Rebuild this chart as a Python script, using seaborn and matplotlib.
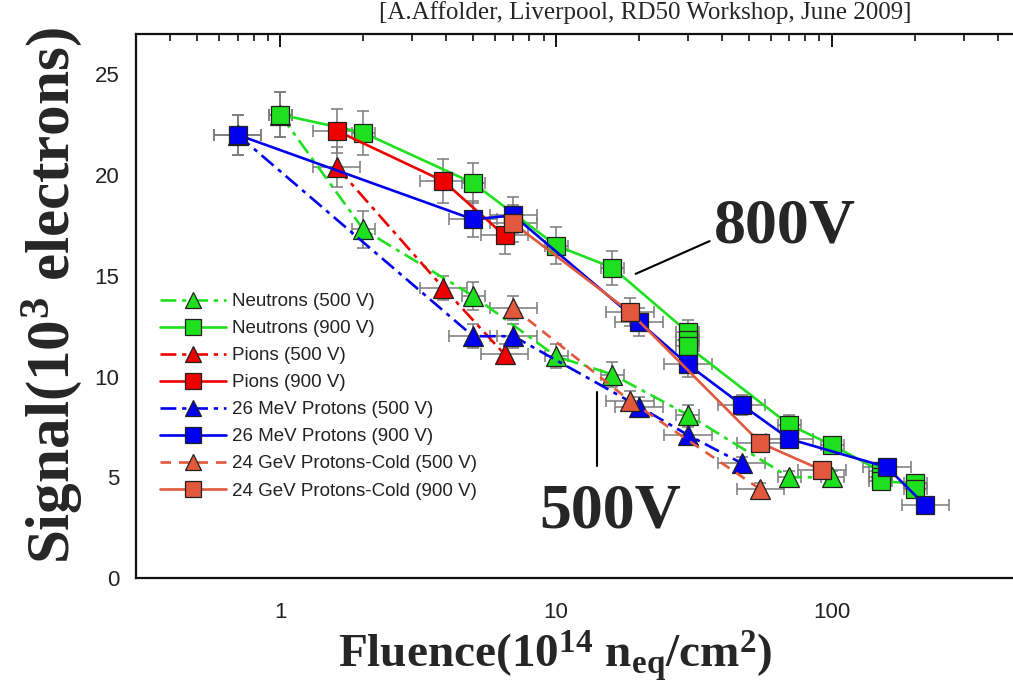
import numpy as np
import pandas as pd
import matplotlib
matplotlib.use("Agg")
import matplotlib.pyplot as plt
from matplotlib.ticker import LogLocator, NullFormatter, FixedLocator, MultipleLocator
import seaborn as sns

sns.set_theme(style="white")
plt.rcParams["font.family"] = ["Liberation Sans", "DejaVu Sans"]
plt.rcParams["mathtext.fontset"] = "custom"
plt.rcParams["mathtext.rm"] = "Liberation Serif:bold"
plt.rcParams["mathtext.bf"] = "Liberation Serif:bold"
plt.rcParams["mathtext.it"] = "Liberation Serif:bold"

# ---- data: fluence (1e14 neq/cm2), signal (1e3 electrons), errors ----
neutrons_500_x = [1, 2, 5, 10, 16, 30, 70, 100]
neutrons_500_y = [23.0, 17.3, 14.0, 11.0, 10.1, 8.1, 5.0, 5.0]
neutrons_500_e = [1.1, 0.9, 0.7, 0.6, 0.6, 0.5, 0.3, 0.3]

neutrons_900_x = [1, 2, 5, 10, 16, 30, 30, 30, 70, 100, 150, 150, 150, 200, 200]
neutrons_900_y = [23.0, 22.1, 19.6, 16.5, 15.4, 12.2, 11.8, 11.5, 7.6, 6.6, 5.3, 5.0, 4.8, 4.7, 4.4]
neutrons_900_e = [1.1, 1.1, 1.0, 0.9, 0.85, 0.6, 0.6, 0.6, 0.5, 0.4, 0.4, 0.4, 0.4, 0.4, 0.4]

pions_500_x = [1.6, 3.9, 6.5]
pions_500_y = [20.4, 14.4, 11.1]
pions_500_e = [1.0, 0.6, 0.5]

pions_900_x = [1.6, 3.9, 6.5]
pions_900_y = [22.2, 19.7, 17.0]
pions_900_e = [1.1, 1.1, 0.9]

p26_500_x = [0.7, 5, 7, 20, 30, 47]
p26_500_y = [22.0, 12.0, 12.0, 8.5, 7.1, 5.7]
p26_500_e = [1.0, 0.6, 0.6, 0.5, 0.4, 0.3]

p26_900_x = [0.7, 5, 7, 20, 30, 47, 70, 158, 218]
p26_900_y = [22.0, 17.8, 18.0, 12.7, 10.6, 8.6, 6.9, 5.5, 3.6]
p26_900_e = [1.0, 0.9, 0.9, 0.7, 0.6, 0.5, 0.4, 0.3, 0.3]

p24_500_x = [7, 18.5, 55]
p24_500_y = [13.4, 8.8, 4.4]
p24_500_e = [0.6, 0.5, 0.3]

p24_900_x = [7, 18.5, 55, 92]
p24_900_y = [17.6, 13.2, 6.7, 5.35]
p24_900_e = [0.9, 0.7, 0.35, 0.3]

labels = [
    "Neutrons (500 V)", "Neutrons (900 V)",
    "Pions (500 V)", "Pions (900 V)",
    "26 MeV Protons (500 V)", "26 MeV Protons (900 V)",
    "24 GeV Protons-Cold (500 V)", "24 GeV Protons-Cold (900 V)",
]
# relative horizontal (fluence) uncertainty of each series
xerr_rel = [0.10, 0.10, 0.22, 0.22, 0.22, 0.22, 0.22, 0.22]

series = [
    (neutrons_500_x, neutrons_500_y, neutrons_500_e),
    (neutrons_900_x, neutrons_900_y, neutrons_900_e),
    (pions_500_x, pions_500_y, pions_500_e),
    (pions_900_x, pions_900_y, pions_900_e),
    (p26_500_x, p26_500_y, p26_500_e),
    (p26_900_x, p26_900_y, p26_900_e),
    (p24_500_x, p24_500_y, p24_500_e),
    (p24_900_x, p24_900_y, p24_900_e),
]

GREEN, RED, BLUE, ORANGE = "#1fe01f", "#ee0000", "#0000ee", "#e2583c"
DASHDOT = (0, (6, 2.2, 1.6, 2.2))
styles = [
    (GREEN, DASHDOT, "^"), (GREEN, "-", "s"),
    (RED, DASHDOT, "^"), (RED, "-", "s"),
    (BLUE, DASHDOT, "^"), (BLUE, "-", "s"),
    (ORANGE, (0, (4, 3)), "^"), (ORANGE, "-", "s"),
]

W, H = 1013, 688
fig = plt.figure(figsize=(W / 100, H / 100), dpi=100)
ax_left, ax_right, ax_top, ax_bot = 136, 1108, 34, 578
ax = fig.add_axes([ax_left / W, 1 - ax_bot / H, (ax_right - ax_left) / W, (ax_bot - ax_top) / H])

for i, ((xs, ys, es), (col, ls, mk)) in enumerate(zip(series, styles)):
    xs = np.asarray(xs, float)
    r = xerr_rel[i]
    ax.errorbar(xs, ys, yerr=es, xerr=[xs - xs / (1 + r), xs * r], fmt="none",
                ecolor="#7a7a7a", elinewidth=1.1, capsize=4, capthick=1.1, zorder=2 + i * 0.1)
    df = pd.DataFrame({"x": xs, "y": ys})
    sns.lineplot(data=df, x="x", y="y", ax=ax, color=col, linestyle=ls, linewidth=1.9,
                 marker=mk, markersize=13 if mk == "s" else 14, markerfacecolor=col,
                 markeredgecolor="#202020", markeredgewidth=0.9,
                 estimator=None, sort=False, label=labels[i], zorder=3 + i * 0.1)

ax.set_xscale("log")
ax.set_xlim(0.3, 1000)
ax.set_ylim(0, 27)
ax.xaxis.set_major_locator(FixedLocator([1, 10, 100]))
ax.set_xticklabels(["1", "10", "100"])
ax.xaxis.set_minor_locator(LogLocator(base=10, subs=np.arange(2, 10)))
ax.xaxis.set_minor_formatter(NullFormatter())
ax.yaxis.set_major_locator(MultipleLocator(5))
ax.yaxis.set_minor_locator(MultipleLocator(2.5))

for sp in ax.spines.values():
    sp.set_linewidth(1.6)
    sp.set_color("#111111")
ax.tick_params(which="both", direction="in", top=True, right=False, color="#111111",
               labelsize=16, labelcolor="#222222")
ax.tick_params(which="major", length=9, width=1.4)
ax.tick_params(which="minor", length=5, width=1.2)
ax.tick_params(axis="x", which="major", pad=17)
ax.tick_params(axis="y", which="major", pad=12)
ax.set_xlabel("")
ax.set_ylabel("")

# axis titles
fig.text(555 / W, 1 - 667 / H, r"Fluence(10$^{14}$ n$_{\mathrm{eq}}$/cm$^{2}$)",
         ha="center", va="baseline", fontfamily="Liberation Serif", fontweight="bold", fontsize=34)
fig.text(52 / W, 1 - 296 / H, r"Signal(10$^{3}$ electrons)", rotation=90, ha="center", va="center",
         fontfamily="Liberation Serif", fontweight="bold", fontsize=44)

leg = ax.legend(loc="upper left", bbox_to_anchor=(160 / W, 1 - 293 / H),
                bbox_transform=fig.transFigure, frameon=False, fontsize=13.5,
                handlelength=3.5, handletextpad=0.35, labelspacing=0.53, borderpad=0,
                borderaxespad=0)
for t in leg.get_texts():
    t.set_color("#222222")
for h in leg.legend_handles:
    h.set_markersize(12)

# voltage annotations
ax.annotate("", xy=(0.625, 1 - 275 / H), xycoords="figure fraction",
            xytext=(0.703, 1 - 240 / H), textcoords="figure fraction",
            arrowprops=dict(arrowstyle="-", color="black", lw=1.5))
fig.text(714 / W, 1 - 228 / H, "800V", fontfamily="Liberation Serif", fontweight="bold",
         fontsize=46, ha="left", va="center")
fig.add_artist(plt.Line2D([597 / W, 597 / W], [1 - 392 / H, 1 - 466 / H], color="black", lw=1.5))
fig.text(539 / W, 1 - 512 / H, "500V", fontfamily="Liberation Serif", fontweight="bold",
         fontsize=46, ha="left", va="center")

fig.text(645 / W, 1 - 1 / H, "[A.Affolder, Liverpool, RD50 Workshop, June 2009]",
         fontfamily="Liberation Serif", fontsize=18, ha="center", va="top")

fig.savefig("out.png", dpi=100)
